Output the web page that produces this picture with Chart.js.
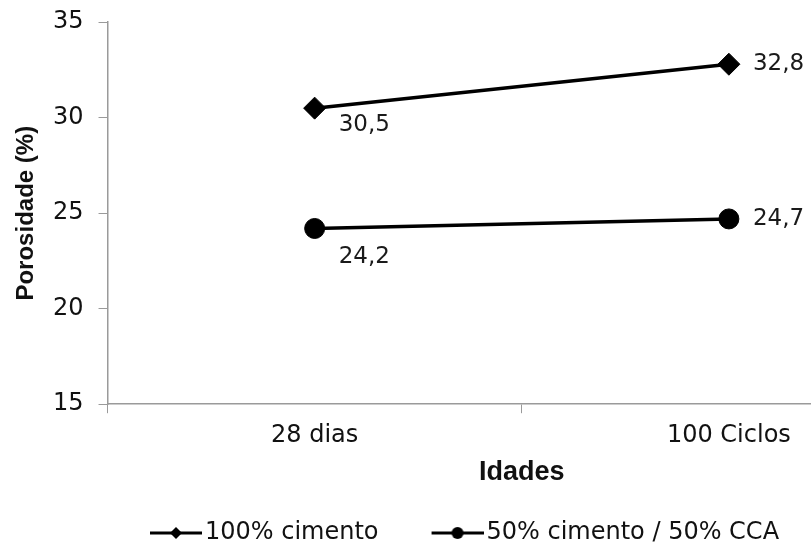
<!DOCTYPE html>
<html>
<head>
<meta charset="utf-8">
<script src="https://cdn.jsdelivr.net/npm/chart.js@4/dist/chart.umd.min.js"></script>
<style>
  html, body { margin: 0; padding: 0; background: #fff; }
  #wrap { width: 811px; height: 547px; overflow: hidden; position: relative; }
  #wrap canvas { position: absolute; left: 0; top: 0; }
</style>
</head>
<body>
<div id="wrap"><canvas id="myChart" width="936" height="555"></canvas></div>
<script>
const idades = ["28 dias", "100 Ciclos"];
const cimento100 = [30.5, 32.8];
const cimento50cca50 = [24.2, 24.7];
const serieNomes = ["100% cimento", "50% cimento / 50% CCA"];
const yTicks = [15, 20, 25, 30, 35];

const numFont = "'DejaVu Sans', sans-serif";
const titleFont = "'Liberation Sans', Arial, sans-serif";
const axisGray = "#9a9a9a";

// legend icons: a short line with the series marker in the middle
function legendIcon(style) {
    const c = document.createElement("canvas");
    c.width = 54;
    c.height = 16;
    const ctx = c.getContext("2d");
    ctx.strokeStyle = "#000";
    ctx.fillStyle = "#000";
    ctx.lineWidth = 3;
    ctx.beginPath();
    ctx.moveTo(2, 8);
    ctx.lineTo(54, 8);
    ctx.stroke();
    ctx.beginPath();
    if (style === "rectRot") {
        ctx.moveTo(28, 2);
        ctx.lineTo(34, 8);
        ctx.lineTo(28, 14);
        ctx.lineTo(22, 8);
        ctx.closePath();
    } else {
        ctx.arc(28, 8, 6, 0, Math.PI * 2);
    }
    ctx.fill();
    return c;
}
const icons = [legendIcon("rectRot"), legendIcon("circle")];

// value labels next to each point ("30,5" style)
const labelOffsets = [[[24, 17], [24, 0]], [[24, 29], [24, 0]]];
const valueLabels = {
    id: "valueLabels",
    afterDatasetsDraw(chart) {
        const ctx = chart.ctx;
        ctx.save();
        ctx.font = "23px " + numFont;
        ctx.fillStyle = "#1a1a1a";
        ctx.textAlign = "left";
        ctx.textBaseline = "middle";
        chart.data.datasets.forEach((ds, i) => {
            chart.getDatasetMeta(i).data.forEach((pt, j) => {
                const txt = String(ds.data[j]).replace(".", ",");
                const off = labelOffsets[i][j];
                ctx.fillText(txt, pt.x + off[0], pt.y + off[1]);
            });
        });
        ctx.restore();
    }
};

const myChartRef = document.getElementById("myChart").getContext("2d");
new Chart(myChartRef, {
    type: "line",
    data: {
        labels: idades,
        datasets: [
            {
                label: serieNomes[0],
                data: cimento100,
                borderColor: "#000",
                backgroundColor: "#000",
                borderWidth: 3.5,
                pointStyle: "rectRot",
                pointRadius: 11,
                pointBorderWidth: 1,
                tension: 0
            },
            {
                label: serieNomes[1],
                data: cimento50cca50,
                borderColor: "#000",
                backgroundColor: "#000",
                borderWidth: 3.5,
                pointStyle: "circle",
                pointRadius: 10,
                pointBorderWidth: 1,
                tension: 0
            }
        ]
    },
    options: {
        responsive: false,
        animation: false,
        layout: { autoPadding: false, padding: { top: 0, right: 0, bottom: 0, left: 0 } },
        plugins: {
            tooltip: { enabled: false },
            legend: {
                position: "bottom",
                labels: {
                    usePointStyle: true,
                    pointStyleWidth: 36,
                    padding: 60,
                    color: "#111",
                    font: { family: numFont, size: 24 },
                    generateLabels(chart) {
                        const items = Chart.defaults.plugins.legend.labels.generateLabels(chart);
                        items.forEach((it, i) => { it.pointStyle = icons[i]; });
                        return items;
                    }
                }
            }
        },
        scales: {
            x: {
                offset: true,
                grid: { offset: true, drawOnChartArea: false, tickLength: 9, color: axisGray },
                border: { color: axisGray, width: 1.5 },
                ticks: { color: "#111", padding: 8, font: { family: numFont, size: 24 } },
                title: {
                    display: true,
                    text: "Idades",
                    color: "#111",
                    padding: { top: 1, bottom: -25 },
                    font: { family: titleFont, size: 27, weight: "bold", lineHeight: 1 }
                }
            },
            y: {
                min: yTicks[0],
                max: yTicks[yTicks.length - 1],
                afterBuildTicks(scale) {
                    scale.ticks = yTicks.map(v => ({ value: v }));
                },
                grid: { drawOnChartArea: false, tickLength: 9, color: axisGray },
                border: { color: axisGray, width: 1.5 },
                ticks: { color: "#111", padding: 15, font: { family: numFont, size: 24, lineHeight: 0.6 } },
                title: {
                    display: true,
                    text: "Porosidade (%)",
                    color: "#111",
                    padding: { top: 14, bottom: 0 },
                    font: { family: titleFont, size: 24, weight: "bold", lineHeight: 1 }
                }
            }
        }
    },
    plugins: [valueLabels]
});
</script>
</body>
</html>
